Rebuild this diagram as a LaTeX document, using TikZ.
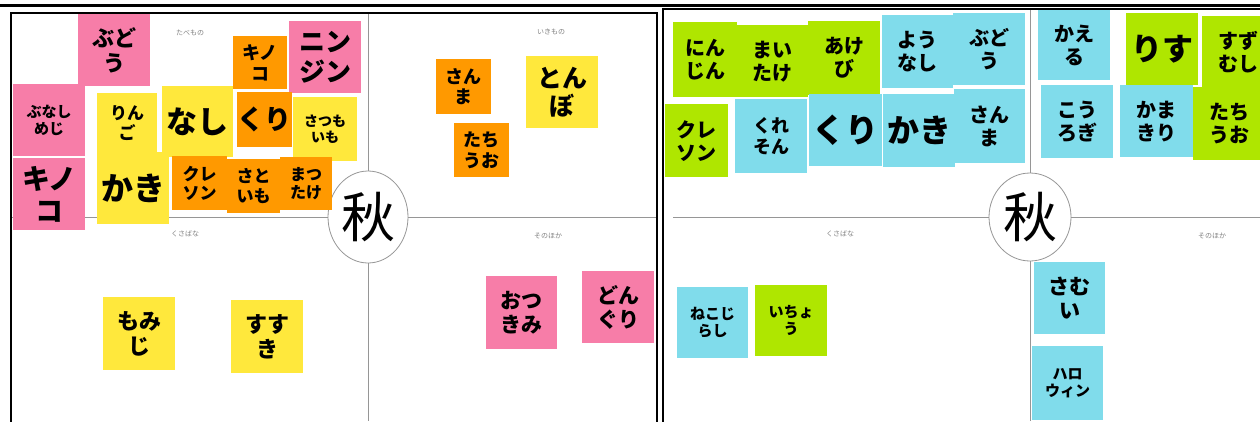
\documentclass[tikz,border=0pt]{standalone}
\usepackage{fontspec}
\setmainfont{Noto Sans CJK JP}
\usetikzlibrary{shapes.geometric}

\definecolor{notepink}{RGB}{247,125,168}
\definecolor{noteyellow}{RGB}{255,232,60}
\definecolor{noteorange}{RGB}{255,153,0}
\definecolor{notegreen}{RGB}{175,230,0}
\definecolor{noteblue}{RGB}{128,220,235}
\definecolor{linegray}{RGB}{150,150,150}

\tikzset{
  note/.style={anchor=north west, inner sep=0pt, align=center, text=black},
  wh/.style 2 args={minimum width=#1, minimum height=#2},
  pinknote/.style={note, fill=notepink},
  yellownote/.style={note, fill=noteyellow},
  orangenote/.style={note, fill=noteorange},
  greennote/.style={note, fill=notegreen},
  bluenote/.style={note, fill=noteblue},
  fs/.style={font={\fontsize{#1}{#1}\selectfont\bfseries\baselineskip=1.15em}},
  area/.style={text=gray, font=\fontsize{7}{8}\selectfont},
  divider/.style={linegray, line width=1pt},
  aki/.style={ellipse, draw=linegray, fill=white, line width=0.8pt, inner sep=0pt,
    font=\fontsize{54}{58}\selectfont}
}

\begin{document}
\begin{tikzpicture}[x=1pt,y=-1pt]
\useasboundingbox (0,0) rectangle (1260,421);
\draw[line width=3pt] (0,5) -- (1260,5);

%left board
\node[aki, wh={80}{92}] (akiL) at (368,217) {秋};
\draw[divider] (akiL.north) -- (akiL.north |- 0,13);
\draw[divider] (akiL.south) -- (akiL.south |- 0,421);
\draw[divider] (akiL.west) -- (akiL.west -| 11,0);
\draw[divider] (akiL.east) -- (akiL.east -| 657,0);
\node[area] (tabemono) at (190,33) {たべもの};
\node[area] (ikimono) at (551,32) {いきもの};
\node[area] (kusabanaL) at (185,234) {くさばな};
\node[area] (sonohokaL) at (548,236) {そのほか};

\node[pinknote, wh={72}{72}, fs=22] (budouL) at (78,14) {ぶど\\う};
\node[pinknote, wh={72}{72}, fs=15] (bunashi) at (13,84) {ぶなし\\めじ};
\node[pinknote, wh={72}{72}, fs=28] (kinokoP) at (13,158) {キノ\\コ};
\node[yellownote, wh={60}{60}, fs=17] (ringo) at (97,93) {りん\\ご};
\node[yellownote, wh={71}{71}, fs=31] (nashi) at (162,86) {なし};
\node[yellownote, wh={72}{72}, fs=32] (kaki) at (97,152) {かき};
\node[orangenote, wh={54}{53}, fs=18] (kinokoO) at (233,36) {キノ\\コ};
\node[pinknote, wh={72}{72}, fs=26] (ninjin) at (289,21) {ニン\\ジン};
\node[orangenote, wh={55}{55}, fs=27] (kuri) at (237,92) {くり};
\node[yellownote, wh={64}{64}, fs=14] (satsumaimo) at (293,97) {さつも\\いも};
\node[orangenote, wh={55}{54}, fs=17] (kureson) at (172,156) {クレ\\ソン};
\node[orangenote, wh={53}{54}, fs=17] (satoimo) at (227,159) {さと\\いも};
\node[orangenote, wh={52}{53}, fs=16] (matsutake) at (280,157) {まつ\\たけ};
\node[orangenote, wh={55}{55}, fs=18] (sanma) at (436,59) {さん\\ま};
\node[orangenote, wh={55}{54}, fs=18] (tachiuo) at (454,123) {たち\\うお};
\node[yellownote, wh={72}{72}, fs=25] (tonbo) at (526,56) {とん\\ぼ};
\node[yellownote, wh={72}{73}, fs=22] (momiji) at (103,297) {もみ\\じ};
\node[yellownote, wh={72}{73}, fs=22] (susuki) at (231,300) {すす\\き};
\node[pinknote, wh={71}{73}, fs=21] (otsukimi) at (486,276) {おつ\\きみ};
\node[pinknote, wh={72}{72}, fs=21] (donguri) at (582,271) {どん\\ぐり};
\draw[line width=2pt] (11,13) rectangle (657,440);

%right board
\node[aki, wh={82}{88}] (akiR) at (1030,217) {秋};
\draw[divider] (akiR.north) -- (akiR.north |- 0,9);
\draw[divider] (akiR.south) -- (akiR.south |- 0,421);
\draw[divider] (akiR.west) -- (akiR.west -| 673,0);
\draw[divider] (akiR.east) -- (akiR.east -| 1260,0);
\node[area] (kusabanaR) at (840,234) {くさばな};
\node[area] (sonohokaR) at (1212,236) {そのほか};

\node[greennote, wh={64}{75}, fs=20] (ninjinR) at (673,22) {にん\\じん};
\node[greennote, wh={71}{72}, fs=20] (maitake) at (737,25) {まい\\たけ};
\node[greennote, wh={72}{74}, fs=20] (akebi) at (808,21) {あけ\\び};
\node[bluenote, wh={71}{73}, fs=20] (younashi) at (882,15) {よう\\なし};
\node[bluenote, wh={72}{72}, fs=20] (budouR) at (953,13) {ぶど\\う};
\node[greennote, wh={63}{73}, fs=20] (kuresonR) at (665,104) {クレ\\ソン};
\node[bluenote, wh={72}{74}, fs=18] (kurezon) at (735,99) {くれ\\そん};
\node[bluenote, wh={73}{72}, fs=33] (kuriR) at (809,94) {くり};
\node[bluenote, wh={72}{73}, fs=32] (kakiR) at (883,94) {かき};
\node[bluenote, wh={71}{74}, fs=20] (sanmaR) at (954,89) {さん\\ま};
\node[bluenote, wh={72}{70}, fs=20] (kaeru) at (1038,10) {かえ\\る};
\node[greennote, wh={72}{72}, fs=31] (risu) at (1126,13) {りす};
\node[greennote, wh={72}{72}, fs=20] (suzumushi) at (1202,16) {すず\\むし};
\node[bluenote, wh={72}{73}, fs=20] (kourogi) at (1041,85) {こう\\ろぎ};
\node[bluenote, wh={73}{72}, fs=20] (kamakiri) at (1120,85) {かま\\きり};
\node[greennote, wh={72}{73}, fs=20] (tachiuoR) at (1193,87) {たち\\うお};
\node[bluenote, wh={71}{71}, fs=15] (nekojirashi) at (677,287) {ねこじ\\らし};
\node[greennote, wh={72}{71}, fs=15] (ichou) at (755,285) {いちょ\\う};
\node[bluenote, wh={71}{72}, fs=21] (samui) at (1034,262) {さむ\\い};
\node[bluenote, wh={71}{74}, fs=15] (halloween) at (1032,346) {ハロ\\ウィン};
\draw[line width=2pt] (663,9) rectangle (1280,440);
\end{tikzpicture}
\end{document}
